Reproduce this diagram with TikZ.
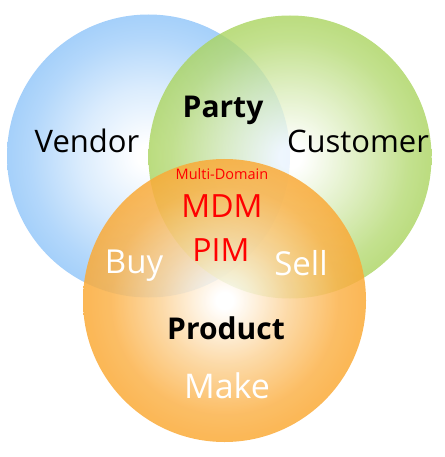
\documentclass[tikz,border=0pt]{standalone}
\usepackage{fontspec}
\setmainfont{Open Sans}
\definecolor{venblue}{RGB}{165,208,250}
\definecolor{cusgreen}{RGB}{170,212,95}
\definecolor{prodorange}{RGB}{250,170,55}
% path edge sits at 25bp
\pgfdeclareradialshading{bluefill}{\pgfpointorigin}{color(0bp)=(white); color(2bp)=(white); color(12bp)=(venblue!40!white); color(21bp)=(venblue!85!white); color(25bp)=(venblue); color(50bp)=(venblue)}
\pgfdeclareradialshading{greenfill}{\pgfpointorigin}{color(0bp)=(white); color(2bp)=(white); color(12bp)=(cusgreen!45!white); color(21bp)=(cusgreen!88!white); color(25bp)=(cusgreen); color(50bp)=(cusgreen)}
\pgfdeclareradialshading{orangefill}{\pgfpointorigin}{color(0bp)=(white); color(1.5bp)=(white); color(11bp)=(prodorange!50!white); color(20bp)=(prodorange!90!white); color(25bp)=(prodorange); color(50bp)=(prodorange)}
\begin{document}
\begin{tikzpicture}[x=1pt, y=-1pt,
  set/.style={circle, minimum size=283pt, inner sep=0pt},
  lbl/.style={anchor=base, inner sep=0pt, font=\fontsize{31}{31}\selectfont},
  domainlbl/.style={lbl, font=\fontsize{30}{30}\selectfont\bfseries},
  corelbl/.style={lbl, text=red, font=\fontsize{32}{32}\selectfont},
  overlaplbl/.style={lbl, text=white, font=\fontsize{33}{33}\selectfont}]
\useasboundingbox (0,0) rectangle (444,457);

\node[set, shading=bluefill] (vendor) at (148.5,156) {};
\node[set, shading=greenfill, fill opacity=0.8] (customer) at (290,157) {};
\node[set, shading=orangefill, fill opacity=0.85] (product) at (224.5,300.5) {};

\node[lbl] (vtext) at (87,153) {Vendor};
\node[lbl] (ctext) at (358,153) {Customer};
\node[domainlbl] (party) at (223,118) {Party};
\node[lbl, text=red, font=\fontsize{14.5}{14.5}\selectfont] (multi) at (222,179) {Multi-Domain};
\node[corelbl] (mdm) at (222,217) {MDM};
\node[corelbl] (pim) at (221,261) {PIM};
\node[overlaplbl] (buy) at (134,273) {Buy};
\node[overlaplbl] (sell) at (301,275) {Sell};
\node[domainlbl] (ptext) at (226,339) {Product};
\node[overlaplbl, font=\fontsize{34}{34}\selectfont] (make) at (227,398) {Make};
\end{tikzpicture}
\end{document}
